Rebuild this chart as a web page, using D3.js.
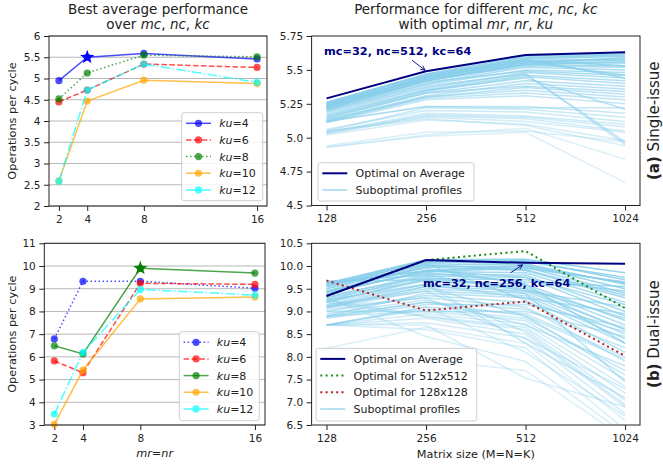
<!DOCTYPE html>
<html>
<head>
<meta charset="utf-8">
<script src="https://cdn.jsdelivr.net/npm/d3@7"></script>
<style>
body { margin: 0; background: #fff; }
text { font-family: "DejaVu Sans", sans-serif; fill: #222; }
</style>
</head>
<body>
<div id="chart"></div>
<script>
// DATOS

const mrValues = [2, 4, 8, 16]
const mrLabels = ["2", "4", "8", "16"]
const kuValues = [4, 6, 8, 10, 12]

// single-issue, best average per (mr=nr, ku)
const singleKu4 = [4.95, 5.50, 5.59, 5.46]
const singleKu6 = [4.45, 4.73, 5.34, 5.26]
const singleKu8 = [4.52, 5.13, 5.55, 5.51]
const singleKu10 = [2.59, 4.47, 4.96, 4.88]
const singleKu12 = [2.58, 4.73, 5.34, 4.91]

// dual-issue
const dualKu4 = [6.79, 9.33, 9.33, 9.02]
const dualKu6 = [5.82, 5.30, 9.24, 9.19]
const dualKu8 = [6.49, 6.13, 9.90, 9.69]
const dualKu10 = [3.03, 5.42, 8.55, 8.64]
const dualKu12 = [3.48, 6.20, 8.97, 8.72]

const singleBest = {mr: 4, value: 5.50}
const dualBest = {mr: 8, value: 9.90}

const singleYTicks = [2, 2.5, 3, 3.5, 4, 4.5, 5, 5.5, 6]
const singleYLabels = ["2", "2.5", "3", "3.5", "4", "4.5", "5", "5.5", "6"]
const dualYTicks = [3, 4, 5, 6, 7, 8, 9, 10, 11]
const dualYLabels = ["3", "4", "5", "6", "7", "8", "9", "10", "11"]

// matrix sizes
const sizes = ["128", "256", "512", "1024"]

const singleOptimal = [5.29, 5.49, 5.61, 5.63]
const singleSub = [
  [5.26, 5.47, 5.60, 5.62], [5.25, 5.46, 5.59, 5.61], [5.24, 5.45, 5.58, 5.60],
  [5.25, 5.44, 5.57, 5.58], [5.23, 5.44, 5.56, 5.57], [5.24, 5.43, 5.55, 5.55],
  [5.22, 5.42, 5.54, 5.53], [5.23, 5.42, 5.53, 5.52], [5.21, 5.40, 5.52, 5.50],
  [5.20, 5.39, 5.50, 5.48], [5.22, 5.41, 5.49, 5.46], [5.19, 5.37, 5.48, 5.44],
  [5.18, 5.36, 5.47, 4.97], [5.20, 5.38, 5.47, 4.95], [5.16, 5.35, 5.46, 5.42],
  [5.15, 5.34, 5.45, 5.40], [5.17, 5.35, 5.44, 5.21], [5.14, 5.33, 5.42, 5.38],
  [5.13, 5.31, 5.40, 5.36], [5.15, 5.33, 5.38, 5.34], [5.12, 5.30, 5.37, 5.32],
  [5.13, 5.30, 5.35, 5.30], [5.12, 5.29, 5.33, 5.28], [5.11, 5.28, 5.31, 5.25],
  [5.12, 5.23, 5.22, 5.22], [5.05, 5.22, 5.21, 5.15], [5.06, 5.20, 5.19, 5.12],
  [5.04, 5.18, 5.16, 5.10], [5.03, 5.17, 5.15, 5.08], [5.04, 5.16, 5.14, 5.05],
  [5.03, 5.15, 5.12, 5.04], [5.02, 5.13, 5.10, 4.98], [5.05, 5.14, 5.09, 4.94],
  [4.93, 5.02, 5.07, 4.84], [4.93, 5.01, 5.04, 4.67], [4.94, 5.04, 5.05, 4.97],
  [5.26, 5.46, 5.58, 5.44], [5.24, 5.44, 5.56, 5.46], [5.22, 5.43, 5.55, 5.59],
  [5.21, 5.42, 5.54, 5.56], [5.23, 5.45, 5.57, 5.53], [5.12, 5.23, 5.23, 5.18]
]

const dualOptimal = [9.34, 10.13, 10.07, 10.05]
const dualOpt512 = [9.34, 10.13, 10.33, 9.07]
const dualOpt128 = [9.68, 9.02, 9.22, 8.02]
const dualSub = [
  [9.62, 10.14, 10.15, 9.85], [9.60, 10.12, 10.10, 9.75], [9.55, 10.10, 10.05, 9.60],
  [9.58, 10.08, 10.12, 9.70], [9.50, 10.05, 10.02, 9.50], [9.45, 10.00, 9.98, 9.40],
  [9.43, 9.98, 9.90, 9.30], [9.65, 9.88, 9.95, 9.65], [9.40, 9.88, 9.85, 9.20],
  [9.30, 9.82, 9.80, 9.00], [9.25, 9.78, 9.75, 8.90], [9.20, 9.72, 9.70, 9.45],
  [9.66, 9.70, 9.60, 8.80], [9.22, 9.68, 9.55, 8.70], [9.15, 9.60, 9.50, 8.60],
  [9.12, 9.55, 9.45, 9.10], [9.10, 9.50, 9.40, 8.50], [9.08, 9.45, 9.35, 8.40],
  [8.90, 9.40, 9.30, 8.30], [9.05, 9.30, 9.10, 7.90], [8.90, 9.20, 9.05, 8.20],
  [8.70, 9.10, 8.95, 8.00], [8.70, 9.05, 8.85, 7.70], [8.90, 9.00, 8.80, 7.50],
  [8.70, 8.95, 8.72, 7.35], [9.25, 8.90, 8.65, 7.20], [9.20, 8.88, 8.60, 7.05],
  [8.70, 8.85, 8.50, 6.90], [8.70, 8.75, 8.42, 6.75], [8.19, 8.65, 8.30, 6.60],
  [8.70, 8.60, 8.20, 6.40], [9.30, 8.45, 7.90, 6.30], [8.19, 7.93, 7.70, 6.20],
  [8.70, 8.70, 7.53, 6.90], [9.45, 9.85, 9.65, 9.55], [9.35, 9.75, 9.50, 8.85],
  [9.00, 9.35, 9.20, 8.55], [9.10, 9.55, 8.90, 7.60], [9.60, 9.95, 9.60, 8.30],
  [9.50, 10.05, 9.25, 8.10], [8.95, 9.25, 8.70, 7.80], [9.20, 9.60, 8.30, 7.10],
  [9.40, 9.90, 10.00, 9.62], [9.55, 10.02, 9.92, 9.35], [9.00, 9.00, 9.00, 8.45],
  [8.85, 9.15, 9.15, 8.65], [9.30, 9.70, 9.40, 7.45], [9.15, 9.45, 8.55, 6.95],
  [8.70, 9.10, 8.10, 6.70], [9.62, 9.90, 9.75, 9.15], [9.26, 9.60, 9.30, 8.95],
  [9.10, 9.30, 8.40, 7.30], [8.88, 9.20, 8.90, 7.95], [9.66, 9.80, 9.45, 8.60]
]

const sizeYTicksA = [4.5, 4.75, 5.0, 5.25, 5.5, 5.75]
const sizeYLabelsA = ["4.5", "4.75", "5.0", "5.25", "5.5", "5.75"]
const sizeYTicksB = [6.5, 7.0, 7.5, 8.0, 8.5, 9.0, 9.5, 10.0, 10.5]
const sizeYLabelsB = ["6.5", "7.0", "7.5", "8.0", "8.5", "9.0", "9.5", "10.0", "10.5"]

// CONSTANTES

const width = 663
const height = 466
const kuColors = ["blue", "red", "green", "orange", "cyan"]
const dashes = {
  solid: null,
  dashed: "5.5,2.4",
  dotted: "1.5,2.5",
  dashdot: "9.6,2.4,1.5,2.4"
}
const styleTop = ["solid", "dashed", "dotted", "solid", "dashdot"]
const styleBottom = ["dotted", "dashed", "solid", "solid", "dashdot"]

const boxes = {
  tl: {x0: 49, x1: 267, y0: 36, y1: 206},
  tr: {x0: 311.6, x1: 640, y0: 36, y1: 205.5},
  bl: {x0: 44.3, x1: 265, y0: 243.3, y1: 425},
  br: {x0: 311.6, x1: 640, y0: 243.3, y1: 425}
}

const svg = d3.select("#chart").append("svg")
  .attr("width", width).attr("height", height)

// helper for mixed italic / bold text
function rich(sel, parts) {
  parts.forEach(p => {
    const t = sel.append("tspan").text(p[0])
    if (p[1] === "i") t.attr("font-style", "italic")
    if (p[1] === "b") t.attr("font-weight", "bold")
  })
  return sel
}

function frame(b, x, y, yTicks, yLabels, xTicks, xLabels, grid) {
  const g = svg.append("g")
  if (grid) {
    g.selectAll(".grid").data(yTicks).enter().append("line")
      .attr("x1", b.x0).attr("x2", b.x1)
      .attr("y1", d => y(d)).attr("y2", d => y(d))
      .attr("stroke", "#b0b0b0").attr("stroke-width", 0.9)
  }
  const yAxis = d3.axisLeft(y).tickValues(yTicks)
    .tickFormat((d, i) => yLabels[i]).tickSize(5).tickPadding(3.5)
  const xAxis = d3.axisBottom(x).tickValues(xTicks)
    .tickFormat((d, i) => xLabels[i]).tickSize(5).tickPadding(4.5)
  const ya = g.append("g").attr("transform", `translate(${b.x0},0)`).call(yAxis)
  const xa = g.append("g").attr("transform", `translate(0,${b.y1})`).call(xAxis)
  ;[ya, xa].forEach(a => {
    a.select(".domain").remove()
    a.selectAll("line").attr("stroke", "#222")
    a.selectAll("text").attr("font-size", 10.5).attr("fill", "#222")
      .attr("font-family", "DejaVu Sans")
  })
  return g
}

function spines(b) {
  svg.append("rect")
    .attr("x", b.x0).attr("y", b.y0)
    .attr("width", b.x1 - b.x0).attr("height", b.y1 - b.y0)
    .attr("fill", "none").attr("stroke", "#222").attr("stroke-width", 1)
}

function starPath(cx, cy, R) {
  const r = R * 0.4
  let pts = []
  for (let i = 0; i < 10; i++) {
    const a = -Math.PI / 2 + i * Math.PI / 5
    const rr = i % 2 === 0 ? R : r
    pts.push([cx + rr * Math.cos(a), cy + rr * Math.sin(a)])
  }
  return "M" + pts.map(p => p.join(",")).join("L") + "Z"
}

function legend(x, y, w, h, entries, step) {
  const g = svg.append("g")
  g.append("rect").attr("x", x).attr("y", y).attr("width", w).attr("height", h)
    .attr("rx", 2.5).attr("fill", "white").attr("fill-opacity", 0.85)
    .attr("stroke", "#cfcfcf").attr("stroke-width", 1)
  entries.forEach((e, i) => {
    const cy = y + 10.6 + i * step
    g.append("line").attr("x1", x + 4.3).attr("x2", x + 29.3)
      .attr("y1", cy).attr("y2", cy)
      .attr("stroke", e.color).attr("stroke-width", e.width)
      .attr("stroke-opacity", e.opacity).attr("stroke-dasharray", e.dash)
    if (e.marker) {
      g.append("circle").attr("cx", x + 16.8).attr("cy", cy).attr("r", 3.6)
        .attr("fill", e.color).attr("fill-opacity", e.opacity)
    }
    rich(g.append("text").attr("x", x + 37.5).attr("y", cy + 4).attr("font-size", 11), e.label)
  })
}

// PANELES IZQUIERDOS

function leftPanel(b, series, styles, yDomain, yTicks, yLabels, best, bestIdx, legendBox) {
  const x = d3.scaleLinear().domain([1.3, 16.7]).range([b.x0, b.x1])
  const y = d3.scaleLinear().domain(yDomain).range([b.y1, b.y0])
  frame(b, x, y, yTicks, yLabels, mrValues, mrLabels, true)
  const line = d3.line().x((d, i) => x(mrValues[i])).y(d => y(d))
  series.forEach((s, k) => {
    const g = svg.append("g")
    g.append("path").attr("d", line(s)).attr("fill", "none")
      .attr("stroke", kuColors[k]).attr("stroke-opacity", 0.7).attr("stroke-width", 1.5)
      .attr("stroke-dasharray", dashes[styles[k]])
    g.selectAll("circle").data(s).enter().append("circle")
      .attr("cx", (d, i) => x(mrValues[i])).attr("cy", d => y(d)).attr("r", 3.6)
      .attr("fill", kuColors[k]).attr("fill-opacity", 0.7)
  })
  svg.append("path").attr("d", starPath(x(best.mr), y(best.value), 7.5))
    .attr("fill", kuColors[bestIdx])
  spines(b)
  legend(legendBox[0], legendBox[1], legendBox[2], legendBox[3],
    kuValues.map((ku, k) => ({
      label: [["ku", "i"], ["=" + ku, ""]],
      color: kuColors[k], width: 1.5, opacity: 0.7,
      dash: dashes[styles[k]], marker: true
    })), 16.65)
}

leftPanel(boxes.tl, [singleKu4, singleKu6, singleKu8, singleKu10, singleKu12], styleTop,
  [2, 6], singleYTicks, singleYLabels, singleBest, 0, [181.7, 112.7, 81, 88])
leftPanel(boxes.bl, [dualKu4, dualKu6, dualKu8, dualKu10, dualKu12], styleBottom,
  [3, 11], dualYTicks, dualYLabels, dualBest, 2, [179.3, 331.7, 80, 89])

// PANELES DERECHOS

function rightPanel(b, id, optimal, subs, extra, yDomain, yTicks, yLabels, note, legendBox, legendEntries) {
  const x = d3.scalePoint().domain(sizes).range([b.x0, b.x1]).padding(0.15)
  const y = d3.scaleLinear().domain(yDomain).range([b.y1, b.y0])
  frame(b, x, y, yTicks, yLabels, sizes, sizes, false)
  svg.append("clipPath").attr("id", id).append("rect")
    .attr("x", b.x0).attr("y", b.y0).attr("width", b.x1 - b.x0).attr("height", b.y1 - b.y0)
  const g = svg.append("g").attr("clip-path", `url(#${id})`)
  const line = d3.line().x((d, i) => x(sizes[i])).y(d => y(d))
  const means = subs.map(s => d3.mean(s))
  const order = d3.sort(d3.range(subs.length), i => means[i])
  const alpha = d3.scaleLinear().domain([0, subs.length - 1]).range([0.3, 0.9])
  order.forEach((idx, r) => {
    g.append("path").attr("d", line(subs[idx])).attr("fill", "none")
      .attr("stroke", "#87ceeb").attr("stroke-width", 1.5).attr("stroke-opacity", alpha(r))
  })
  extra.forEach(e => {
    g.append("path").attr("d", line(e.values)).attr("fill", "none")
      .attr("stroke", e.color).attr("stroke-width", 2).attr("stroke-dasharray", "2,3.3")
  })
  g.append("path").attr("d", line(optimal)).attr("fill", "none")
    .attr("stroke", "#000080").attr("stroke-width", 2)
  // annotation
  const px = x(sizes[note.at]), py = y(optimal[note.at])
  svg.append("text").attr("x", px + note.dx).attr("y", py + note.dy)
    .attr("font-size", 11.3).attr("font-weight", "bold").style("fill", "#000080")
    .text(note.text)
  svg.append("line")
    .attr("x1", px + note.ax).attr("y1", py + note.ay)
    .attr("x2", px + note.bx).attr("y2", py + note.by)
    .attr("stroke", "#000080").attr("stroke-width", 0.9)
  const ang = Math.atan2(note.by - note.ay, note.bx - note.ax)
  const hx = px + note.bx, hy = py + note.by
  svg.append("path")
    .attr("d", `M${hx - 5 * Math.cos(ang - 0.45)},${hy - 5 * Math.sin(ang - 0.45)}L${hx},${hy}L${hx - 5 * Math.cos(ang + 0.45)},${hy - 5 * Math.sin(ang + 0.45)}`)
    .attr("fill", "none").attr("stroke", "#000080").attr("stroke-width", 0.9)
  spines(b)
  legend(legendBox[0], legendBox[1], legendBox[2], legendBox[3], legendEntries, 16.7)
}

const subEntry = {label: [["Suboptimal profiles", ""]], color: "#87ceeb", width: 2, opacity: 0.6, dash: null}
const avgEntry = {label: [["Optimal on Average", ""]], color: "#000080", width: 2, opacity: 1, dash: null}

rightPanel(boxes.tr, "clipA", singleOptimal, singleSub, [], [4.5, 5.75], sizeYTicksA, sizeYLabelsA,
  {at: 1, text: "mc=32, nc=512, kc=64", dx: -102, dy: -16, ax: -14, ay: -11, bx: -1, by: -1},
  [318, 162.7, 156, 38.3], [avgEntry, subEntry])

rightPanel(boxes.br, "clipB", dualOptimal, dualSub,
  [{values: dualOpt512, color: "#1a8a1a"}, {values: dualOpt128, color: "#b22222"}],
  [6.5, 10.5], sizeYTicksB, sizeYLabelsB,
  {at: 2, text: "mc=32, nc=256, kc=64", dx: -102.6, dy: 23.7, ax: -15, ay: 10, bx: -3, by: 2},
  [316, 348.3, 160.7, 72.7],
  [avgEntry,
   {label: [["Optimal for 512x512", ""]], color: "#1a8a1a", width: 2, opacity: 1, dash: "2,3.3"},
   {label: [["Optimal for 128x128", ""]], color: "#b22222", width: 2, opacity: 1, dash: "2,3.3"},
   subEntry])

// TITULOS Y ETIQUETAS

const cxL = (boxes.tl.x0 + boxes.tl.x1) / 2
const cxR = (boxes.tr.x0 + boxes.tr.x1) / 2
svg.append("text").attr("x", cxL).attr("y", 13.5).attr("text-anchor", "middle")
  .attr("font-size", 13.5).text("Best average performance")
rich(svg.append("text").attr("x", cxL).attr("y", 29).attr("text-anchor", "middle").attr("font-size", 13.5),
  [["over ", ""], ["mc", "i"], [", ", ""], ["nc", "i"], [", ", ""], ["kc", "i"]])
rich(svg.append("text").attr("x", cxR).attr("y", 13.8).attr("text-anchor", "middle").attr("font-size", 13.5),
  [["Performance for different ", ""], ["mc", "i"], [", ", ""], ["nc", "i"], [", ", ""], ["kc", "i"]])
rich(svg.append("text").attr("x", cxR).attr("y", 29).attr("text-anchor", "middle").attr("font-size", 13.5),
  [["with optimal ", ""], ["mr", "i"], [", ", ""], ["nr", "i"], [", ", ""], ["ku", "i"]])

;[boxes.tl, boxes.bl].forEach(b => {
  svg.append("text").attr("transform", `translate(16,${(b.y0 + b.y1) / 2}) rotate(-90)`)
    .attr("text-anchor", "middle").attr("font-size", 11.3).text("Operations per cycle")
})

rich(svg.append("text").attr("x", (boxes.bl.x0 + boxes.bl.x1) / 2).attr("y", 457.3)
  .attr("text-anchor", "middle").attr("font-size", 11.3),
  [["mr", "i"], ["=", ""], ["nr", "i"]])
svg.append("text").attr("x", (boxes.br.x0 + boxes.br.x1) / 2).attr("y", 458.3)
  .attr("text-anchor", "middle").attr("font-size", 11.3).text("Matrix size (M=N=K)")

rich(svg.append("text").attr("transform", `translate(659,${(boxes.tr.y0 + boxes.tr.y1) / 2}) rotate(-90)`)
  .attr("text-anchor", "middle").attr("font-size", 15),
  [["(a)", "b"], [" Single-issue", ""]])
rich(svg.append("text").attr("transform", `translate(659,${(boxes.br.y0 + boxes.br.y1) / 2}) rotate(-90)`)
  .attr("text-anchor", "middle").attr("font-size", 15),
  [["(b)", "b"], [" Dual-issue", ""]])
</script>
</body>
</html>
